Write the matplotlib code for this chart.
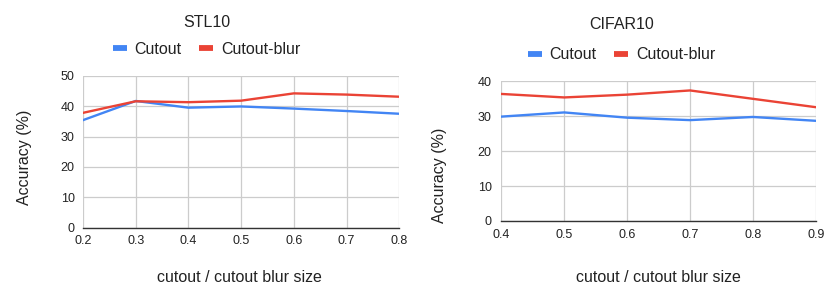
import matplotlib
matplotlib.use("Agg")
import matplotlib.pyplot as plt
from matplotlib.lines import Line2D

plt.rcParams['font.family'] = ['Liberation Sans', 'DejaVu Sans']

# STL10 data
stl_x = [0.2, 0.3, 0.4, 0.5, 0.6, 0.7, 0.8]
stl_cutout = [35.4, 41.7, 39.5, 39.9, 39.2, 38.4, 37.5]
stl_blur = [37.8, 41.6, 41.3, 41.8, 44.2, 43.8, 43.1]
stl_yticks = [0, 10, 20, 30, 40, 50]

# CIFAR10 data
cif_x = [0.4, 0.5, 0.6, 0.7, 0.8, 0.9]
cif_cutout = [29.9, 31.1, 29.6, 28.9, 29.8, 28.7]
cif_blur = [36.4, 35.4, 36.2, 37.4, 35.0, 32.6]
cif_yticks = [0, 10, 20, 30, 40]

series_names = ["Cutout", "Cutout-blur"]
BLUE = "#4285F4"
RED = "#EA4335"
TXT = "#222222"

fig = plt.figure(figsize=(8.30, 2.97), dpi=100)

ax1 = fig.add_axes([0.100, 0.233, 0.381, 0.512])
ax2 = fig.add_axes([0.604, 0.256, 0.379, 0.470])


def style(ax, xs, yticks, xpad, ypad):
    ax.set_xlim(xs[0], xs[-1])
    ax.set_ylim(yticks[0], yticks[-1])
    ax.set_xticks(xs)
    ax.set_xticklabels([f"{v:.1f}" for v in xs])
    ax.set_yticks(yticks)
    ax.grid(True, color="#cccccc", linewidth=0.9)
    ax.set_axisbelow(True)
    for s in ["top", "right", "left"]:
        ax.spines[s].set_visible(False)
    ax.spines["bottom"].set_color("#333333")
    ax.spines["bottom"].set_linewidth(1.0)
    ax.spines["bottom"].set_zorder(5)
    ax.tick_params(axis="both", length=0, labelsize=9, colors=TXT)
    ax.tick_params(axis="x", pad=xpad)
    ax.tick_params(axis="y", pad=ypad)


ax1.plot(stl_x, stl_cutout, color=BLUE, lw=1.7, zorder=3)
ax1.plot(stl_x, stl_blur, color=RED, lw=1.7, zorder=3)
style(ax1, stl_x, stl_yticks, 5, 6)

ax2.plot(cif_x, cif_cutout, color=BLUE, lw=1.7, zorder=3)
ax2.plot(cif_x, cif_blur, color=RED, lw=1.7, zorder=3)
style(ax2, cif_x, cif_yticks, 6, 7)

handles = [Line2D([], [], color=BLUE, lw=4.2, solid_capstyle="butt"),
           Line2D([], [], color=RED, lw=4.2, solid_capstyle="butt")]

for ax, (lx, ly) in [(ax1, (0.249, 0.835)), (ax2, (0.749, 0.815))]:
    ax.legend(handles, series_names, loc="center", bbox_to_anchor=(lx, ly),
              bbox_transform=fig.transFigure, ncol=2, frameon=False,
              fontsize=11.5, handlelength=0.85, handletextpad=0.5,
              columnspacing=1.1, labelcolor=TXT)

fig.text(0.249, 0.923, "STL10", ha="center", va="center", fontsize=11.5, color=TXT)
fig.text(0.749, 0.916, "CIFAR10", ha="center", va="center", fontsize=11.5, color=TXT)

fig.text(0.029, 0.471, "Accuracy (%)", ha="center", va="center", rotation=90,
         fontsize=11.5, color=TXT)
fig.text(0.530, 0.411, "Accuracy (%)", ha="center", va="center", rotation=90,
         fontsize=11.5, color=TXT)

fig.text(0.289, 0.064, "cutout / cutout blur size", ha="center", va="center",
         fontsize=11.5, color=TXT)
fig.text(0.793, 0.064, "cutout / cutout blur size", ha="center", va="center",
         fontsize=11.5, color=TXT)

fig.savefig("out.png", dpi=100)
